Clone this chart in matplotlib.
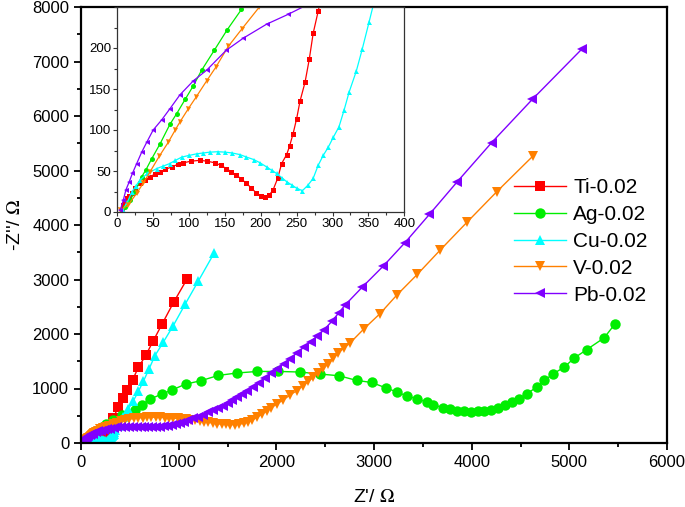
import numpy as np
import matplotlib
matplotlib.use("Agg")
import matplotlib.pyplot as plt
from matplotlib.ticker import MultipleLocator

plt.rcParams["font.family"] = ["Liberation Sans", "DejaVu Sans"]
plt.rcParams["mathtext.fontset"] = "stix"

# ── Data ──────────────────────────────────────────────────────────────────────
ti_x = [6, 8, 10.7, 14, 17, 20, 25, 31.6, 38, 45.6, 52, 59.5, 67, 76, 84, 92, 103,
        115, 125, 136, 144, 152, 159, 166, 173, 180, 187, 194, 200, 206, 212, 217,
        223.5, 229, 236, 240, 245, 250, 254.6, 261.6, 267.6, 273, 280, 330,
        382, 433, 474, 529, 587, 663, 741, 833, 949, 1088]
ti_y = [2.4, 8, 12.5, 17, 20, 23, 29, 35, 39, 43, 46, 49, 52, 55, 58, 60, 62,
        63, 62, 60, 57, 53, 49, 45, 40, 35, 29, 23, 20, 18.6, 21, 26.7,
        41, 59, 70, 80, 95.5, 114, 135, 158, 186.5, 218, 245, 460,
        658, 823, 976, 1160, 1387, 1608, 1879, 2192, 2584, 3015]

ag_x = [11, 17.7, 24.7, 34, 39.6, 48, 59.5, 73.4, 82.8, 95, 106, 117.6, 135, 153,
        173, 210, 260, 330, 420, 553, 621, 707, 826, 935, 1072, 1226, 1406, 1594,
        1806, 2021, 2243, 2447, 2642, 2823, 2975, 3120, 3233, 3340, 3444, 3540,
        3608, 3704, 3780, 3850, 3920, 3990, 4060, 4130, 4200, 4270, 4340, 4410,
        4480, 4566, 4666, 4744, 4836, 4949, 5051, 5178, 5356, 5468]
ag_y = [6.4, 14.6, 24.6, 43, 51, 65, 83, 107, 120, 138, 154, 173, 197, 222,
        247, 290, 350, 430, 520, 608, 700, 805, 897, 976, 1081, 1142, 1240, 1284,
        1313, 1313, 1302, 1265, 1234, 1148, 1111, 1013, 936, 860, 810, 750,
        700, 650, 615, 592, 580, 575, 578, 590, 610, 645, 690, 745,
        810, 900, 1030, 1148, 1270, 1394, 1560, 1713, 1929, 2186]

cu_x = [8, 14, 20, 26, 31.6, 42, 55, 64, 73, 81, 90, 100, 111, 120, 129, 140, 150,
        160, 171, 180, 190, 199, 208, 215, 222, 229, 236, 243, 250, 258, 266, 273,
        280, 287, 294, 301, 309, 316, 323, 333, 341.5, 351, 376, 433, 484, 536,
        587, 638, 696, 758, 843, 945, 1065, 1201, 1362]
cu_y = [3, 12, 24, 32, 39, 47, 53, 56, 59, 63, 67, 69, 71, 72, 73, 73.5, 73,
        72, 70, 67, 64, 60, 55, 51, 47, 42, 37, 33, 29, 26, 33, 41,
        57, 69, 79, 91, 104, 124, 146, 171.5, 199, 232, 320, 470, 620, 774,
        945, 1129, 1357, 1605, 1850, 2155, 2542, 2971, 3481]

v_x = [4, 15, 27, 36, 45.6, 58.5, 71, 80.4, 87.4, 99, 109.7, 124.6, 137.6, 154.7,
       173.4, 198, 225, 255, 290, 325, 365, 405, 450, 495, 540, 585, 630, 675, 720,
       765, 810, 855, 900, 945, 990, 1035, 1080, 1125, 1170, 1215, 1260, 1305, 1350,
       1395, 1440, 1485, 1530, 1575, 1620, 1665, 1710, 1755, 1800, 1850, 1900, 1950,
       2010, 2072, 2140, 2209, 2270, 2328, 2380, 2430, 2480, 2533, 2585, 2635, 2690,
       2755, 2900, 3063, 3233, 3444, 3676, 3950, 4257, 4632]
v_y = [2, 8.5, 22.7, 35, 49, 68, 85, 99.5, 110, 126, 140, 160, 177, 202,
       223, 250, 272, 296, 320, 345, 372, 398, 420, 437, 450, 460, 467, 471, 473,
       473, 471, 467, 462, 456, 450, 443, 435, 425, 414, 402, 390, 378, 366,
       355, 346, 340, 337, 338, 345, 360, 385, 420, 470, 525, 585, 650,
       720, 792, 880, 960, 1050, 1130, 1210, 1284, 1370, 1455, 1555, 1652, 1740,
       1836, 2100, 2376, 2713, 3095, 3537, 4047, 4611, 5274]

pb_x = [4, 8.4, 12, 16.7, 21, 27, 34, 41, 50, 62, 73.4, 87.4, 106, 124.6, 151.5,
        175.6, 208, 238, 270, 300, 335, 370, 410, 450, 490, 530, 570, 610, 650, 690,
        730, 770, 810, 850, 890, 930, 970, 1010, 1055, 1100, 1150, 1200, 1250, 1300,
        1350, 1400, 1450, 1500, 1550, 1600, 1650, 1700, 1760, 1820, 1884, 1950, 2010,
        2075, 2140, 2210, 2280, 2350, 2420, 2490, 2567, 2640, 2703, 2880, 3096, 3318,
        3567, 3853, 4205, 4621, 5127]
pb_y = [2, 14.6, 27, 37, 47, 59, 73, 85, 100, 112.5, 126, 143, 160, 173, 197,
        212, 229, 241, 255, 265, 276, 285, 292, 297, 299, 300, 298, 295, 291, 288,
        287, 290, 296, 305, 318, 333, 350, 370, 393, 420, 452, 486, 522, 560,
        600, 642, 687, 735, 785, 838, 893, 950, 1020, 1100, 1190, 1280, 1365,
        1455, 1550, 1650, 1755, 1860, 1965, 2080, 2230, 2390, 2530, 2860, 3248, 3678,
        4194, 4795, 5513, 6305, 7226]

labels = ["Ti-0.02", "Ag-0.02", "Cu-0.02", "V-0.02", "Pb-0.02"]
series = [(ti_x, ti_y), (ag_x, ag_y), (cu_x, cu_y), (v_x, v_y), (pb_x, pb_y)]
colors = ["#FF0000", "#00EE00", "#00FFFF", "#FF8000", "#8000FF"]
markers = ["s", "o", "^", "v", "<"]
msizes = [6.5, 7.5, 7.5, 7.5, 7.5]

# ── Figure ────────────────────────────────────────────────────────────────────
fig = plt.figure(figsize=(6.85, 5.07), dpi=100)
ax = fig.add_axes([81 / 685, 1 - 443 / 507, (667 - 81) / 685, (443 - 7) / 507])

handles = []
for (x, y), c, m, ms, lab in zip(series, colors, markers, msizes, labels):
    h, = ax.plot(x, y, color=c, marker=m, markersize=ms, lw=1.0,
                 markeredgewidth=0, label=lab)
    handles.append(h)

ax.set_xlim(0, 6000)
ax.set_ylim(0, 8000)
ax.xaxis.set_major_locator(MultipleLocator(1000))
ax.xaxis.set_minor_locator(MultipleLocator(500))
ax.yaxis.set_major_locator(MultipleLocator(1000))
ax.yaxis.set_minor_locator(MultipleLocator(500))
ax.tick_params(which="major", direction="out", length=5, width=1.3, labelsize=12)
ax.tick_params(which="minor", direction="out", length=3, width=1.3)
for s in ax.spines.values():
    s.set_linewidth(1.6)
ax.set_xlabel("Z'/ $\\Omega$", fontsize=14, labelpad=14)
ax.set_ylabel("-Z''/ $\\Omega$", fontsize=14, labelpad=6)

ax.legend(handles=handles, loc="upper left", bbox_to_anchor=(514 / 685, 1 - 178 / 507),
          bbox_transform=fig.transFigure, frameon=False, fontsize=15,
          handlelength=2.5, handletextpad=0.35, labelspacing=0.38,
          borderpad=0, borderaxespad=0)

# ── Inset ─────────────────────────────────────────────────────────────────────
ins = fig.add_axes([117.3 / 685, 1 - 212 / 507, (404.3 - 117.3) / 685, (212 - 7) / 507])
for (x, y), c, m in zip(series, colors, markers):
    ins.plot(x, y, color=c, marker=m, markersize=3.6, lw=0.9, markeredgewidth=0)
ins.set_xlim(0, 400)
ins.set_ylim(0, 250)
ins.xaxis.set_major_locator(MultipleLocator(50))
ins.xaxis.set_minor_locator(MultipleLocator(25))
ins.yaxis.set_minor_locator(MultipleLocator(25))
ins.set_yticks([0, 50, 100, 150, 200])
ins.tick_params(which="major", direction="out", length=3, width=0.8,
                labelsize=9.5, pad=1.5, color="#333333")
ins.tick_params(which="minor", direction="out", length=2, width=0.8, color="#333333")
for s in ins.spines.values():
    s.set_linewidth(0.9)
    s.set_color("#333333")

fig.savefig("out.png", dpi=100)
